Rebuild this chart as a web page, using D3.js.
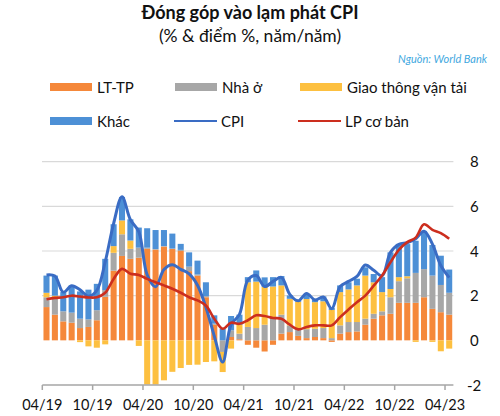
<!DOCTYPE html>
<html>
<head>
<meta charset="utf-8">
<script src="https://cdn.jsdelivr.net/npm/d3@7/dist/d3.min.js"></script>
<style>
  body { margin: 0; background: #fff; }
  svg { display: block; font-family: Lato, "Open Sans", sans-serif; }
</style>
</head>
<body>
<svg id="chart" width="500" height="416"></svg>
<script>
const months = ["04/19","05/19","06/19","07/19","08/19","09/19","10/19","11/19","12/19",
  "01/20","02/20","03/20","04/20","05/20","06/20","07/20","08/20","09/20","10/20","11/20","12/20",
  "01/21","02/21","03/21","04/21","05/21","06/21","07/21","08/21","09/21","10/21","11/21","12/21",
  "01/22","02/22","03/22","04/22","05/22","06/22","07/22","08/22","09/22","10/22","11/22","12/22",
  "01/23","02/23","03/23","04/23"];
const tickLabels = ["04/19","10/19","04/20","10/20","04/21","10/21","04/22","10/22","04/23"];
const yTicks = [-2, 0, 2, 4, 6, 8];

const seriesNames = ["LT-TP", "Nhà ở", "Giao thông vận tải", "Khác"];
const ltTp = [1.49,1.15,0.85,0.79,0.55,0.60,0.90,1.95,3.12,3.78,
  3.65,3.70,4.10,4.06,4.20,4.09,4.00,3.10,2.90,1.93,
  0.70,0.00,0.15,0.05,-0.20,-0.33,-0.50,-0.20,0.30,0.37,
  0.20,0.10,0.15,0.10,-0.07,0.30,0.37,0.40,0.70,0.97,
  1.12,1.19,1.68,1.68,1.68,1.93,1.41,1.26,1.15];
const nhaO = [0.44,0.75,0.45,0.45,0.42,0.34,0.45,0.30,0.80,0.97,
  0.45,0.45,0.05,0.03,0.02,0.02,0.05,0.20,0.05,0.05,
  0.05,-0.52,0.30,0.25,0.60,0.55,0.70,1.00,0.85,0.30,
  0.33,0.40,0.37,0.45,0.10,0.37,0.45,0.42,0.27,0.22,
  0.18,0.74,0.97,1.10,1.34,1.26,1.49,1.22,0.98];
const giaoThong = [0.20,0.10,0.00,0.00,-0.08,-0.27,-0.33,-0.18,0.30,0.62,
  0.37,-0.25,-1.98,-1.98,-1.79,-1.41,-1.24,-1.10,-1.09,-0.97,
  -0.94,-0.90,-0.37,0.40,2.00,2.08,1.70,1.41,1.31,1.19,
  1.20,1.35,1.19,1.20,1.26,1.49,1.46,1.64,1.93,1.41,
  0.86,0.37,0.18,0.09,-0.07,0.00,-0.07,-0.49,-0.37];
const khac = [0.77,0.90,0.86,1.22,1.22,1.33,1.18,1.40,0.98,1.05,
  0.95,0.90,0.87,0.85,0.72,0.67,0.27,0.64,0.62,0.62,
  0.37,0.52,0.64,0.45,0.23,0.50,0.42,0.42,0.42,0.15,
  0.05,0.22,0.15,0.22,0.10,0.30,0.32,0.30,0.37,0.37,
  0.67,1.64,1.49,1.44,1.44,1.71,1.37,1.31,1.04];
const cpi = [2.93,2.88,2.16,2.44,2.26,1.98,2.24,3.52,5.23,6.43,
  5.40,4.87,2.93,2.40,3.17,3.39,3.18,2.98,2.47,1.48,
  0.19,-0.97,0.70,1.16,2.70,2.90,2.41,2.64,2.82,2.06,
  1.77,2.10,1.81,1.94,1.42,2.41,2.64,2.86,3.37,3.14,
  2.89,3.94,4.30,4.37,4.55,4.89,4.31,3.35,2.81];
const lpCoBan = [1.84,1.90,1.93,2.00,1.96,1.92,1.93,2.13,2.75,3.20,
  2.98,2.93,2.75,2.60,2.46,2.31,2.13,1.93,1.79,1.56,
  0.97,0.52,0.79,0.74,0.90,1.12,1.09,1.00,0.97,0.70,
  0.49,0.60,0.67,0.67,0.67,1.04,1.38,1.71,2.00,2.45,
  2.90,3.50,4.05,4.40,4.60,5.20,4.95,4.80,4.55];

const colors = {"LT-TP":"#F5883A","Nhà ở":"#A7A7A7","Giao thông vận tải":"#FDC040","Khác":"#4D90D6"};
const cpiColor = "#3A6CC4", coreColor = "#CC2E1E";

const svg = d3.select("#chart");

// Title
svg.append("text").attr("x", 250).attr("y", 19).attr("text-anchor","middle")
  .attr("font-size", 18).attr("font-weight", "bold").attr("fill","#111")
  .text("Đóng góp vào lạm phát CPI");
svg.append("text").attr("x", 250).attr("y", 42).attr("text-anchor","middle")
  .attr("font-size", 17.5).attr("fill","#111")
  .text("(% & điểm %, năm/năm)");
svg.append("text").attr("x", 487).attr("y", 63).attr("text-anchor","end")
  .attr("font-size", 11).attr("font-style","italic").attr("fill","#3FA8E0")
  .text("Nguồn: World Bank");

// Legend
const legendItems = [
  {name:"LT-TP", type:"rect", x:50, y:87},
  {name:"Nhà ở", type:"rect", x:175, y:87},
  {name:"Giao thông vận tải", type:"rect", x:300, y:87},
  {name:"Khác", type:"rect", x:50, y:121},
  {name:"CPI", type:"line", x:174, y:121, color:cpiColor},
  {name:"LP cơ bản", type:"line", x:298, y:121, color:coreColor}
];
legendItems.forEach(it => {
  if (it.type === "rect") {
    svg.append("rect").attr("x", it.x).attr("y", it.y - 4).attr("width", 42).attr("height", 8)
      .attr("fill", colors[it.name]);
  } else {
    svg.append("line").attr("x1", it.x).attr("x2", it.x + 43).attr("y1", it.y).attr("y2", it.y)
      .attr("stroke", it.color).attr("stroke-width", 2.2);
  }
  svg.append("text").attr("x", it.x + 47).attr("y", it.y + 5.5).attr("font-size", 15)
    .attr("fill","#111").text(it.name);
});

// Scales
const x = d3.scaleBand().domain(months).range([42.3, 453.4]).paddingInner(0.28).paddingOuter(0.14);
const y = d3.scaleLinear().domain([-2, 8]).range([385, 161.7]);

// Gridlines
svg.append("g").selectAll("line").data(yTicks.filter(t => t > 0)).join("line")
  .attr("x1", 42).attr("x2", 453.4).attr("y1", d => y(d)).attr("y2", d => y(d))
  .attr("stroke", "#D9D9D9").attr("stroke-width", 1.2);

// Stacked bars
const rows = months.map((m, i) => ({month: m, "LT-TP": ltTp[i], "Nhà ở": nhaO[i],
  "Giao thông vận tải": giaoThong[i], "Khác": khac[i]}));
const stacked = d3.stack().keys(seriesNames).offset(d3.stackOffsetDiverging)(rows);
svg.append("g").selectAll("g").data(stacked).join("g").attr("fill", s => colors[s.key])
  .selectAll("rect").data(s => s).join("rect")
  .attr("x", d => x(d.data.month))
  .attr("width", x.bandwidth())
  .attr("y", d => y(Math.max(d[0], d[1])))
  .attr("height", d => Math.abs(y(d[0]) - y(d[1])));

// Axis (bottom at -2)
const tickX = m => x(m) - x.step() * 0.14;
svg.append("line").attr("x1", 42.3).attr("x2", 453.4).attr("y1", y(-2)).attr("y2", y(-2))
  .attr("stroke", "#A6A6A6").attr("stroke-width", 1.5);
svg.append("g").selectAll("line").data(tickLabels).join("line")
  .attr("x1", d => tickX(d)).attr("x2", d => tickX(d))
  .attr("y1", y(-2)).attr("y2", y(-2) + 5).attr("stroke", "#A6A6A6").attr("stroke-width", 1.5);
svg.append("g").selectAll("text").data(tickLabels).join("text")
  .attr("x", d => tickX(d)).attr("y", 410).attr("text-anchor", "middle")
  .attr("font-size", 14.5).attr("fill", "#111").text(d => d);

// Y labels (right)
svg.append("g").selectAll("text").data(yTicks).join("text")
  .attr("x", d => d < 0 ? 467 : 470).attr("y", d => y(d) + 5.5)
  .attr("font-size", 15).attr("fill", "#111").text(d => d);

// Lines
const cx = m => x(m) + x.bandwidth() / 2;
const lineGen = d3.line().x(d => cx(d.m)).y(d => y(d.v)).curve(d3.curveCatmullRom.alpha(0.5));
svg.append("path").datum(months.map((m, i) => ({m, v: cpi[i]})))
  .attr("d", lineGen).attr("fill", "none").attr("stroke", cpiColor).attr("stroke-width", 3)
  .attr("stroke-linejoin", "round");
svg.append("path").datum(months.map((m, i) => ({m, v: lpCoBan[i]})))
  .attr("d", lineGen).attr("fill", "none").attr("stroke", coreColor).attr("stroke-width", 2.6)
  .attr("stroke-linejoin", "round");
</script>
</body>
</html>
